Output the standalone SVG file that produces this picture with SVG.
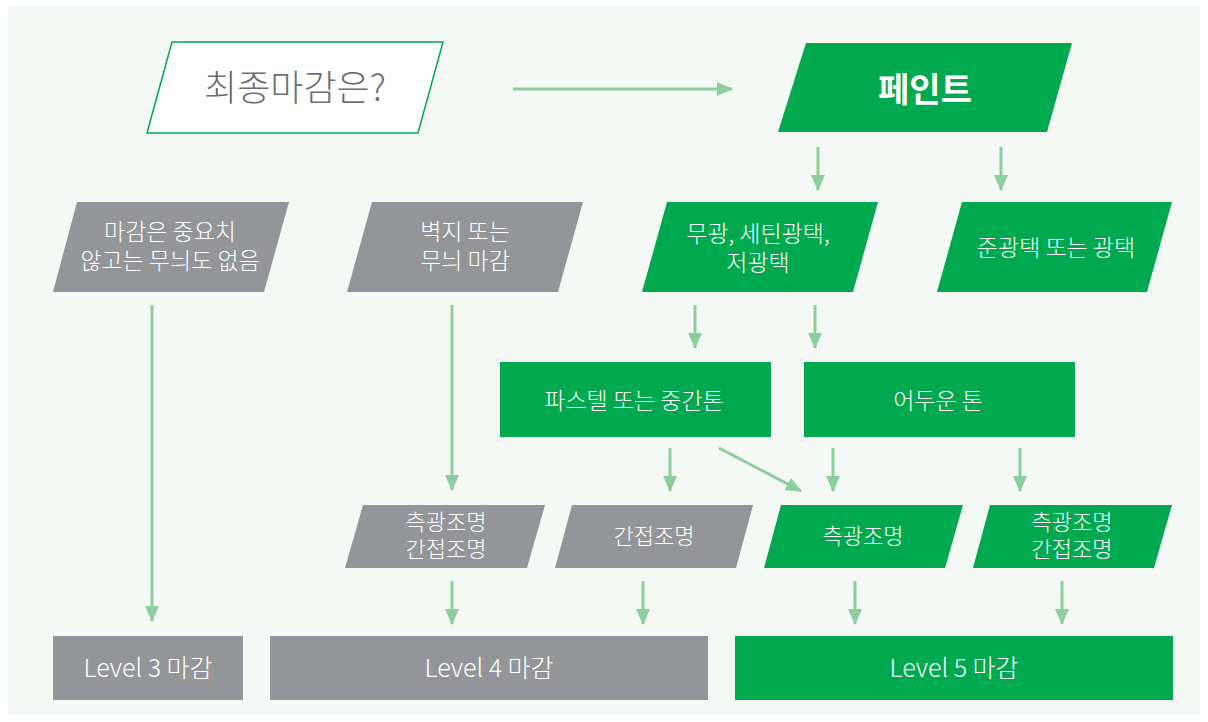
<svg xmlns="http://www.w3.org/2000/svg" width="1208" height="722" viewBox="0 0 1208 722">
<defs>
<style>
.bg{fill:#f4f9f5}
.g{fill:#939598}
.gr{fill:#00a84f}
.t{font-family:"Noto Sans CJK KR","Noto Sans",sans-serif;font-weight:300;fill:#ffffff;text-anchor:middle;font-size:23px}
.s{font-size:22px}
.lv{font-size:25px}
.c{stroke:#8dce9f;stroke-width:3;fill:none;marker-end:url(#ah)}
</style>
<marker id="ah" markerUnits="userSpaceOnUse" markerWidth="16" markerHeight="14" refX="15" refY="7" orient="auto">
<path d="M0,0 L16,7 L0,14 z" fill="#8dce9f"/>
</marker>
</defs>
<rect x="0" y="0" width="1208" height="722" fill="#ffffff"/>
<rect class="bg" x="8" y="7" width="1192" height="708"/>

<g id="connectors">
<line class="c" x1="513" y1="89" x2="732" y2="89"/>
<line class="c" x1="818" y1="147" x2="818" y2="190"/>
<line class="c" x1="1001" y1="147" x2="1001" y2="190"/>
<line class="c" x1="152" y1="305" x2="152" y2="621"/>
<line class="c" x1="452" y1="305" x2="452" y2="490"/>
<line class="c" x1="695" y1="305" x2="695" y2="348"/>
<line class="c" x1="815" y1="305" x2="815" y2="348"/>
<line class="c" x1="670" y1="448" x2="670" y2="491"/>
<line class="c" x1="719" y1="448" x2="801" y2="491"/>
<line class="c" x1="833" y1="448" x2="833" y2="491"/>
<line class="c" x1="1020" y1="448" x2="1020" y2="491"/>
<line class="c" x1="452" y1="581" x2="452" y2="624"/>
<line class="c" x1="643" y1="581" x2="643" y2="624"/>
<line class="c" x1="855" y1="581" x2="855" y2="624"/>
<line class="c" x1="1062" y1="581" x2="1062" y2="624"/>
</g>

<g id="n-final">
<polygon points="172,42 443,42 418,133 147,133" fill="#ffffff" stroke="#00a84f" stroke-width="1.5"/>
<text class="t" x="295" y="101" style="fill:#6d6e71;font-size:36px">최종마감은?</text>
</g>

<g id="n-paint">
<polygon class="gr" points="806,43 1072,43 1047,132 778,132"/>
<text class="t" x="925" y="102" style="font-size:34px;font-weight:700">페인트</text>
</g>

<g id="n-nopattern">
<polygon class="g" points="77,202 289,202 264,292 53,292"/>
<text class="t" x="170" y="240">마감은 중요치</text>
<text class="t" x="170" y="269">않고는 무늬도 없음</text>
</g>

<g id="n-wallpaper">
<polygon class="g" points="372,202 583,202 558,292 347,292"/>
<text class="t" x="465" y="240">벽지 또는</text>
<text class="t" x="465" y="269">무늬 마감</text>
</g>

<g id="n-matte">
<polygon class="gr" points="667,202 878,202 853,292 642,292"/>
<text class="t" x="758" y="242">무광, 세틴광택,</text>
<text class="t" x="758" y="271">저광택</text>
</g>

<g id="n-gloss">
<polygon class="gr" points="962,202 1172,202 1147,292 937,292"/>
<text class="t" x="1056" y="256">준광택 또는 광택</text>
</g>

<g id="n-pastel">
<rect class="gr" x="500" y="362" width="271" height="75"/>
<text class="t" x="634" y="409">파스텔 또는 중간톤</text>
</g>

<g id="n-dark">
<rect class="gr" x="804" y="362" width="271" height="75"/>
<text class="t" x="938" y="409">어두운 톤</text>
</g>

<g id="n-side-indirect-gray">
<polygon class="g" points="363,505 545,505 527,568 345,568"/>
<text class="t s" x="446" y="530">측광조명</text>
<text class="t s" x="446" y="557">간접조명</text>
</g>

<g id="n-indirect-gray">
<polygon class="g" points="572,505 753,505 736,568 555,568"/>
<text class="t s" x="654" y="544">간접조명</text>
</g>

<g id="n-side-green">
<polygon class="gr" points="781,505 963,505 945,568 764,568"/>
<text class="t s" x="863" y="544">측광조명</text>
</g>

<g id="n-side-indirect-green">
<polygon class="gr" points="990,505 1172,505 1154,568 973,568"/>
<text class="t s" x="1072" y="530">측광조명</text>
<text class="t s" x="1072" y="557">간접조명</text>
</g>

<g id="n-level3">
<rect class="g" x="53" y="636" width="190" height="64"/>
<text class="t lv" x="148" y="677">Level 3 마감</text>
</g>

<g id="n-level4">
<rect class="g" x="270" y="636" width="438" height="64"/>
<text class="t lv" x="489" y="677">Level 4 마감</text>
</g>

<g id="n-level5">
<rect class="gr" x="735" y="636" width="438" height="64"/>
<text class="t lv" x="954" y="677">Level 5 마감</text>
</g>
</svg>
